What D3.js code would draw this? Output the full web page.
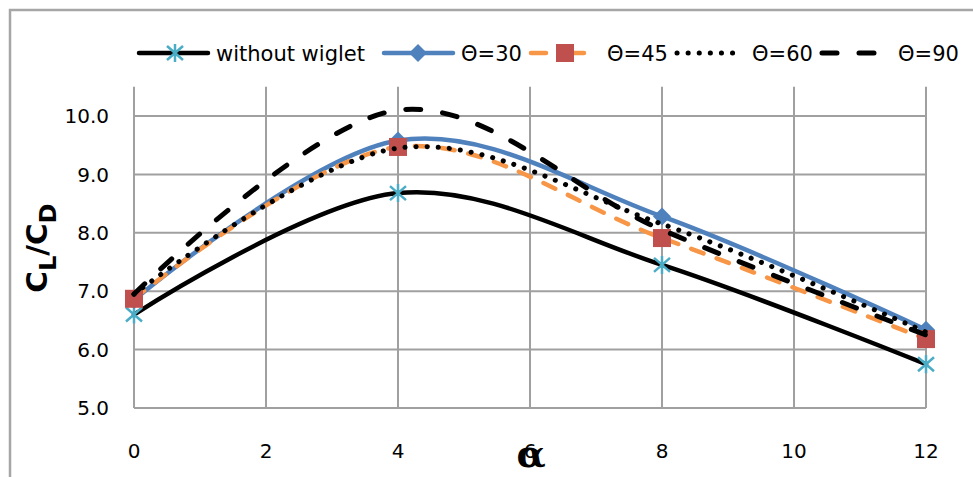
<!DOCTYPE html>
<html lang="en">
<head>
    <meta charset="UTF-8">
    <title>CL/CD vs alpha</title>
    <script src="https://cdn.jsdelivr.net/npm/d3@7"></script>
    <style>
        body { margin: 0; background: #fff; }
        svg { display: block; }
        text { font-family: "DejaVu Sans", sans-serif; fill: #000; }
    </style>
</head>
<body>
    <div id="chart"></div>
    <script>
        /*------------------------- data -------------------------*/
        const alphas = [0, 4, 8, 12];
        const withoutWiglet = [6.60, 8.68, 7.45, 5.75];
        const theta30 = [6.85, 9.58, 8.28, 6.34];
        const theta45 = [6.87, 9.47, 7.91, 6.18];
        const theta60 = [6.95, 9.45, 8.15, 6.30];
        const theta90 = [6.95, 10.10, 8.05, 6.25];
        const seriesNames = ["without wiglet", "\u0398=30", "\u0398=45", "\u0398=60", "\u0398=90"];
        const xTicks = [0, 2, 4, 6, 8, 10, 12];
        const yTicks = [5, 6, 7, 8, 9, 10];

        /*------------------------ setup -------------------------*/
        const width = 973, height = 477;
        const svg = d3.select("#chart").append("svg")
            .attr("width", width)
            .attr("height", height);

        // outer chart border
        svg.append("rect")
            .attr("x", 10).attr("y", 10)
            .attr("width", 1000).attr("height", 500)
            .attr("fill", "none")
            .attr("stroke", "#a6a6a6")
            .attr("stroke-width", 2.5);

        const x = d3.scaleLinear().domain([0, 12]).range([134, 926]);
        const y = d3.scaleLinear().domain([5, 10.5]).range([408, 86.8]);

        // grid
        svg.append("g").selectAll("line")
            .data(yTicks)
            .enter().append("line")
            .attr("x1", x(0)).attr("x2", x(12))
            .attr("y1", d => y(d)).attr("y2", d => y(d))
            .attr("stroke", "#a0a0a0").attr("stroke-width", 2);

        svg.append("g").selectAll("line")
            .data(xTicks)
            .enter().append("line")
            .attr("x1", d => x(d)).attr("x2", d => x(d))
            .attr("y1", y(5)).attr("y2", y(10.5))
            .attr("stroke", "#a0a0a0").attr("stroke-width", 2);

        // tick labels
        svg.append("g").selectAll("text")
            .data(yTicks)
            .enter().append("text")
            .attr("x", 109)
            .attr("y", d => y(d))
            .attr("dy", "0.36em")
            .attr("text-anchor", "end")
            .style("font-size", "20px")
            .text(d => d3.format(".1f")(d));

        svg.append("g").selectAll("text")
            .data(xTicks)
            .enter().append("text")
            .attr("x", d => x(d))
            .attr("y", 458)
            .attr("text-anchor", "middle")
            .style("font-size", "20px")
            .text(d => d);

        // axis titles
        const yTitle = svg.append("text")
            .attr("transform", "translate(47,248) rotate(-90) scale(1.05,1)")
            .attr("text-anchor", "middle")
            .style("font-weight", "bold")
            .style("font-size", "28px");
        yTitle.append("tspan").text("C");
        yTitle.append("tspan").attr("dy", 9).style("font-size", "23px").text("L");
        yTitle.append("tspan").attr("dy", -9).text("/C");
        yTitle.append("tspan").attr("dy", 9).style("font-size", "23px").text("D");

        svg.append("text")
            .attr("x", 531).attr("y", 467)
            .attr("text-anchor", "middle")
            .style("font-family", "'DejaVu Serif', serif")
            .style("font-weight", "bold")
            .style("font-size", "38px")
            .text("\u03b1");

        /*----------------------- markers ------------------------*/
        function drawMarker(g, type, cx, cy) {
            if (type === "star") {
                g.append("path")
                    .attr("d", `M${cx},${cy - 9}V${cy + 9}M${cx - 8},${cy - 7}L${cx + 8},${cy + 7}M${cx - 8},${cy + 7}L${cx + 8},${cy - 7}`)
                    .attr("stroke", "#4bacc6").attr("stroke-width", 2.5).attr("fill", "none");
            } else if (type === "diamond") {
                g.append("path")
                    .attr("d", `M${cx},${cy - 9}L${cx + 9},${cy}L${cx},${cy + 9}L${cx - 9},${cy}Z`)
                    .attr("fill", "#4f81bd");
            } else if (type === "square") {
                g.append("rect")
                    .attr("x", cx - 9).attr("y", cy - 9)
                    .attr("width", 18).attr("height", 18)
                    .attr("fill", "#c0504d");
            }
        }

        /*----------------------- series -------------------------*/
        const series = [
            { name: seriesNames[0], values: withoutWiglet, color: "#000", width: 4.5, dash: null, legDash: null, marker: "star" },
            { name: seriesNames[1], values: theta30, color: "#4f81bd", width: 4.5, dash: null, legDash: null, marker: "diamond" },
            { name: seriesNames[2], values: theta45, color: "#f79646", width: 4.5, dash: "13,14", legDash: "15,15,23", marker: "square" },
            { name: seriesNames[3], values: theta60, color: "#000", width: 5, dash: "0.1,11", legDash: "0.1,11", marker: null },
            { name: seriesNames[4], values: theta90, color: "#000", width: 5, dash: "15,22", legDash: "15,22", marker: null }
        ];

        const line = d3.line()
            .x(d => x(d[0]))
            .y(d => y(d[1]))
            .curve(d3.curveCardinal.tension(0));

        series.forEach(s => {
            const g = svg.append("g");
            const pts = alphas.map((a, i) => [a, s.values[i]]);
            g.append("path")
                .attr("d", line(pts))
                .attr("fill", "none")
                .attr("stroke", s.color)
                .attr("stroke-width", s.width)
                .attr("stroke-linecap", "round")
                .attr("stroke-dasharray", s.dash);
            if (s.marker) pts.forEach(p => drawMarker(g, s.marker, x(p[0]), y(p[1])));
        });

        /*----------------------- legend -------------------------*/
        const legendPos = [
            { x1: 139, x2: 208, mx: 175, tx: 216 },
            { x1: 384, x2: 453, mx: 418, tx: 461 },
            { x1: 531, x2: 584, mx: 565, tx: 607 },
            { x1: 677, x2: 742, mx: null, tx: 752 },
            { x1: 822, x2: 876, mx: null, tx: 898 }
        ];
        const legY = 53;
        series.forEach((s, i) => {
            const p = legendPos[i];
            const g = svg.append("g");
            g.append("line")
                .attr("x1", p.x1).attr("x2", p.x2)
                .attr("y1", legY).attr("y2", legY)
                .attr("stroke", s.color)
                .attr("stroke-width", s.width)
                .attr("stroke-linecap", "round")
                .attr("stroke-dasharray", s.legDash);
            if (s.marker) drawMarker(g, s.marker, p.mx, legY);
            g.append("text")
                .attr("x", p.tx).attr("y", legY)
                .attr("dy", "0.36em")
                .style("font-size", "21px")
                .text(s.name);
        });
    </script>
</body>
</html>
